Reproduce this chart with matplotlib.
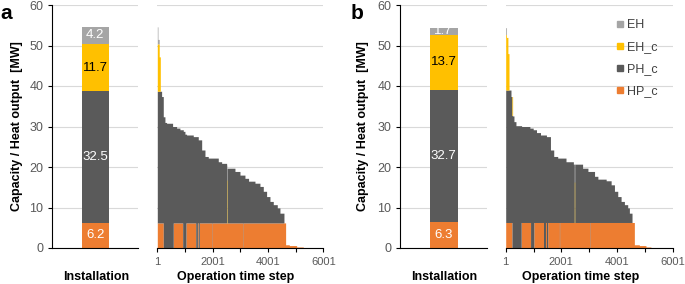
import numpy as np
import matplotlib
matplotlib.use("Agg")
import matplotlib.pyplot as plt
from matplotlib.lines import Line2D

plt.rcParams['font.family'] = ['Liberation Sans', 'DejaVu Sans']

# Technologies (bottom to top) and colours
techs = ['HP_c', 'PH_c', 'EH_c', 'EH']
colors = {'HP_c': '#ED7D31', 'PH_c': '#5A5A5A', 'EH_c': '#FFC000', 'EH': '#A5A5A5'}

# Installed capacity [MW] per technology (HP_c, PH_c, EH_c, EH)
cap_a = [6.2, 32.5, 11.7, 4.2]
cap_b = [6.3, 32.7, 13.7, 1.7]

# Sorted heat output (duration curve): first time step of each level and total heat output [MW]
step_a = [1, 25, 70, 110, 157, 217, 277, 337, 554, 699, 819, 940, 1000, 1060,
          1301, 1482, 1605, 1724, 1843, 2205, 2327, 2507, 2808, 2989, 3169,
          3300, 3531, 3711, 3832, 3952, 4073, 4193, 4338, 4434, 4579, 4639,
          4772, 5037, 5278]
load_a = [54.6, 51.5, 47.2, 38.7, 37.4, 32.4, 31.0, 30.8, 30.0, 29.6, 29.2, 28.8,
          28.1, 27.9, 27.5, 26.7, 24.2, 22.6, 22.2, 21.3, 20.9, 19.7, 18.9, 18.0,
          17.2, 16.5, 16.0, 15.2, 14.0, 12.7, 11.5, 10.7, 9.9, 8.6, 6.2, 0.8,
          0.6, 0.25, 0.0]

step_b = [1, 30, 80, 120, 191, 250, 298, 370, 573, 871, 990, 1109, 1253, 1467,
          1611, 1729, 1872, 2170, 2435, 2767, 2959, 3197, 3317, 3615, 3794,
          3913, 4032, 4152, 4271, 4390, 4450, 4545, 4629, 4808, 5046, 5225]
load_b = [54.4, 52.0, 48.0, 39.0, 37.4, 32.6, 31.2, 30.2, 30.0, 29.6, 29.2, 28.5,
          27.9, 27.5, 24.2, 22.6, 22.2, 21.3, 20.7, 19.7, 18.9, 17.7, 17.0, 16.6,
          15.6, 14.0, 12.7, 11.5, 10.7, 9.9, 8.6, 6.3, 0.8, 0.6, 0.25, 0.0]

# Time step ranges in which the heat pump is not running
hp_off_a = [(217, 578), (918, 1037), (1390, 1450), (1480, 1520), (1966, 1974), (3085, 3093)]
hp_off_b = [(226, 558), (895, 1013), (1360, 1432), (1468, 1514), (1933, 1941), (3018, 3026)]

# single time step with electric heaters in operation: (step, EH_c, EH)
spike_a = (2507, 10.6, 3.7)
spike_b = (2470, 10.0, 4.4)


def dispatch(steps, loads, cap, hp_off, spike):
    t = np.arange(1, 6002)
    idx = np.searchsorted(steps, t, side='right') - 1
    total = np.asarray(loads)[idx]
    hp = np.minimum(total, cap[0])
    for s0, s1 in hp_off:
        hp[(t >= s0) & (t < s1)] = 0
    ph = np.minimum(total - hp, cap[1])
    ehc = np.minimum(total - hp - ph, cap[2])
    eh = total - hp - ph - ehc
    m = (t >= spike[0]) & (t < spike[0] + 12)
    ph[m] = 0
    ehc[m] = spike[1]
    eh[m] = spike[2]
    return t, [hp, ph, ehc, eh]


def draw_panel(ax_i, ax_o, cap, steps, loads, hp_off, spike, lab_x, op_lab_x):
    # Installation bar
    bottom = 0
    for k, name in enumerate(techs):
        ax_i.bar(0, cap[k], bottom=bottom, width=0.32, color=colors[name], zorder=2)
        txt_col = 'black' if name == 'EH_c' else 'white'
        ax_i.text(0, bottom + cap[k] / 2, f'{cap[k]:.1f}', ha='center', va='center',
                  color=txt_col, fontsize=9.5, zorder=3)
        bottom += cap[k]
    ax_i.set_xlim(-0.5, 0.5)
    ax_i.set_ylim(0, 60)
    ax_i.set_yticks(range(0, 61, 10))
    ax_i.set_xticks([])
    ax_i.tick_params(axis='y', labelsize=9, labelcolor='#595959', length=3, width=0.8)
    ax_i.grid(axis='y', color='#D9D9D9', lw=0.8)
    ax_i.set_axisbelow(True)
    for s in ['top', 'right']:
        ax_i.spines[s].set_visible(False)
    ax_i.spines['left'].set_linewidth(0.8)
    ax_i.spines['bottom'].set_linewidth(0.8)
    ax_i.set_xlabel('Installation', fontsize=9, fontweight='bold')
    ax_i.xaxis.set_label_coords(0.51, -0.093)
    ax_i.set_ylabel('Capacity / Heat output  [MW]', fontsize=9, fontweight='bold')
    ax_i.yaxis.set_label_coords(lab_x, 0.5)

    # Operation (sorted time steps)
    t, layers = dispatch(steps, loads, cap, hp_off, spike)
    base = np.zeros(len(t), dtype=float)
    for name, lay in zip(techs, layers):
        ax_o.fill_between(t, base, base + lay, step='post', color=colors[name], lw=0, zorder=2)
        base = base + lay
    ax_o.set_xlim(1, 6001)
    ax_o.set_ylim(0, 60)
    ax_o.set_yticks(range(0, 61, 10))
    ax_o.set_xticks([1, 2001, 4001, 6001])
    ax_o.set_xticks([1001, 3001, 5001], minor=True)
    ax_o.tick_params(axis='y', left=False, labelleft=False)
    ax_o.tick_params(axis='x', which='both', length=3, width=0.8, labelsize=8,
                     labelcolor='#595959')
    ax_o.grid(axis='y', color='#D9D9D9', lw=0.8)
    ax_o.set_axisbelow(True)
    for s in ['top', 'right', 'left']:
        ax_o.spines[s].set_visible(False)
    ax_o.spines['bottom'].set_linewidth(0.8)
    ax_o.set_xlabel('Operation time step', fontsize=9, fontweight='bold')
    ax_o.xaxis.set_label_coords(op_lab_x, -0.093)


fig = plt.figure(figsize=(6.85, 2.84), dpi=100)
W, H = 685, 284
y0, y1 = 248, 5


def box(x0, x1):
    return [x0 / W, 1 - y0 / H, (x1 - x0) / W, (y0 - y1) / H]


ax1 = fig.add_axes(box(52.3, 138.3))
ax2 = fig.add_axes(box(157.3, 323.3))
ax3 = fig.add_axes(box(400.3, 487))
ax4 = fig.add_axes(box(505.7, 672.5))

draw_panel(ax1, ax2, cap_a, step_a, load_a, hp_off_a, spike_a, -0.335, 0.47)
draw_panel(ax3, ax4, cap_b, step_b, load_b, hp_off_b, spike_b, -0.36, 0.45)

fig.text(0.0, 0.985, 'a', fontsize=15, fontweight='bold', va='top', ha='left')
fig.text(351 / W, 0.985, 'b', fontsize=15, fontweight='bold', va='top', ha='left')

handles = [Line2D([], [], ls='none', marker='s', markersize=5, color=colors[n])
           for n in ['EH', 'EH_c', 'PH_c', 'HP_c']]
fig.legend(handles, ['EH', 'EH_c', 'PH_c', 'HP_c'], loc='upper left',
           bbox_to_anchor=(616 / W, 1 - 19 / H), frameon=False, fontsize=9,
           handlelength=0.7, handletextpad=0.2, labelspacing=0.8,
           borderpad=0, borderaxespad=0, labelcolor='#404040')

fig.savefig('out.png', dpi=100)
